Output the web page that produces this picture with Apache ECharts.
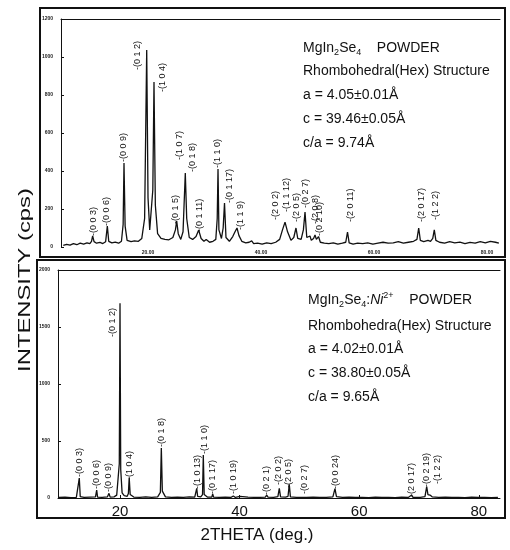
<!DOCTYPE html>
<html><head><meta charset="utf-8">
<script src="https://cdn.jsdelivr.net/npm/echarts@6/dist/echarts.min.js"></script>
<style>html,body{margin:0;padding:0;background:#fff}#c{width:510px;height:550px}</style>
</head><body><div id="c"></div>
<script>
// ---- data ----
const topPattern = [
[5.0,8],[5.6,14],[6.2,10],[6.8,18],[7.4,12],[8.0,20],[8.6,15],[9.2,22],[9.7,18],[10.0,30],[10.2,58],[10.45,28],
[10.9,20],[11.5,24],[12.0,18],[12.5,28],[12.8,110],[13.05,30],[13.6,22],[14.2,26],[14.8,20],[15.3,30],[15.6,120],
[15.75,442],[15.95,110],[16.3,35],[17.0,28],[17.6,32],[18.3,30],[18.9,45],[19.4,150],[19.77,1037],[20.0,260],
[20.3,90],[20.6,100],[20.85,300],[21.06,868],[21.3,220],[21.7,70],[22.3,45],[23.0,40],[23.7,38],[24.4,50],
[24.85,90],[25.08,137],[25.35,70],[25.8,40],[26.2,80],[26.6,389],[26.85,150],[27.3,50],[27.9,40],[28.5,55],
[28.97,89],[29.4,45],[29.9,30],[30.3,40],[30.62,50],[30.9,25],[31.5,30],[32.0,40],[32.25,150],[32.39,410],
[32.55,90],[33.0,45],[33.3,100],[33.54,232],[33.8,50],[34.4,30],[35.0,55],[35.4,80],[35.75,100],[36.1,60],
[36.6,30],[37.3,22],[37.9,25],[38.35,32],[38.7,18],[39.4,20],[40.2,15],[41.0,22],[41.8,18],[42.6,25],[43.3,40],
[43.8,90],[44.25,131],[44.7,80],[45.3,35],[45.8,50],[46.19,100],[46.5,45],[47.1,40],[47.5,90],[47.79,184],
[48.1,50],[48.4,40],[48.67,58],[48.9,35],[49.3,45],[49.56,63],[49.8,40],[50.18,55],[50.5,25],[51.2,20],[52.0,18],
[52.8,22],[53.6,15],[54.4,20],[55.0,25],[55.31,79],[55.6,22],[56.3,15],[57.1,20],[58.0,18],[58.9,22],[59.8,15],
[60.7,20],[61.6,25],[62.5,20],[63.4,22],[64.3,28],[65.2,20],[66.1,25],[67.0,30],[67.6,40],[67.91,100],[68.2,35],
[68.8,28],[69.56,35],[70.0,30],[70.4,45],[70.67,90],[70.95,35],[71.6,25],[72.5,20],[73.4,28],[74.3,22],[75.2,26],
[76.1,18],[77.0,24],[77.9,20],[78.8,28],[79.7,22],[80.6,30],[81.5,25],[82.1,20]
];
const bottomPattern = [
[9.8,5],[10.8,8],[11.8,4],[12.7,6],[13.0,15],[13.19,175],[13.35,12],[14.0,5],[15.0,8],[15.9,10],[16.1,70],[16.25,8],
[17.0,6],[17.9,10],[18.16,41],[18.35,8],[19.0,10],[19.3,15],[19.45,25],[19.7,40],[19.88,300],[20.0,1708],[20.12,250],
[20.35,45],[20.7,20],[21.2,15],[21.4,40],[21.54,180],[21.7,30],[22.3,8],[23.3,6],[24.3,10],[25.3,6],[26.3,10],
[26.75,50],[26.91,438],[27.08,60],[27.6,10],[28.6,5],[29.6,8],[30.6,6],[31.6,10],[32.5,8],[32.7,20],[32.83,85],
[32.98,15],[33.5,10],[33.8,30],[33.93,377],[34.08,30],[34.6,8],[35.35,8],[35.5,35],[35.65,8],[36.6,5],[37.6,8],
[38.6,6],[38.95,18],[39.3,5],[40.07,14],[40.4,5],[41.4,8],[42.4,5],[43.4,6],[44.3,8],[44.53,26],[44.75,8],[45.7,6],
[46.4,12],[46.64,85],[46.85,10],[47.7,8],[48.1,15],[48.31,120],[48.5,10],[49.5,6],[50.7,6],[50.94,18],[51.2,5],
[52.3,8],[53.4,5],[54.5,6],[55.6,10],[55.95,82],[56.2,12],[57.2,5],[58.3,8],[59.4,5],[60.5,6],[61.6,4],[62.7,8],
[63.8,5],[64.9,6],[66.0,4],[67.1,8],[68.2,5],[68.78,26],[69.0,6],[70.2,5],[71.0,12],[71.29,99],[71.5,30],[71.84,26],
[72.2,10],[73.3,5],[74.4,8],[75.5,5],[76.6,6],[77.7,4],[78.8,8],[79.9,5],[81.0,6],[82.1,4],[83.2,6]
];
// peak index labels: [hkl, 2theta, intensity level where the label starts]
const topPeakLabels = [
['(0 0 3)',10.32,58],['(0 0 6)',12.74,110],['(0 0 9)',15.75,447],['(0 1 2)',18.23,932],['(1 0 4)',22.48,816],
['(0 1 5)',24.78,121],['(1 0 7)',25.66,458],['(0 1 8)',27.96,395],['(0 1 11)',29.03,79],['(1 1 0)',32.39,416],
['(0 1 17)',34.51,232],['(1 1 9)',36.41,90],['(2 0 2)',42.65,142],['(1 1 12)',44.60,184],['(2 0 5)',46.37,132],
['(0 2 7)',47.96,205],['(2 0 8)',49.56,121],['(0 2 10)',50.44,58],['(2 0 11)',55.88,132],['(2 0 17)',68.44,132],
['(1 2 2)',70.97,142]
];
const bottomPeakLabels = [
['(0 0 3)',13.23,184],['(0 0 6)',16.15,79],['(0 0 9)',18.08,53],['(0 1 2)',18.83,1412],['(1 0 4)',21.67,158],
['(0 1 8)',26.94,447],['(1 0 13)',32.88,79],['(1 1 0)',34.05,386],['(0 1 17)',35.55,35],['(1 0 19)',38.90,35],
['(0 2 1)',44.58,26],['(2 0 2)',46.59,114],['(2 0 5)',48.26,88],['(0 2 7)',50.94,35],['(0 0 24)',56.12,79],
['(2 0 17)',68.83,9],['(0 2 19)',71.34,96],['(1 2 2)',73.18,123]
];
const xTickValues = [20,40,60,80];
const topYRange = [0,1200,200];
const bottomYRange = [0,2000,500];
const topInfo = ['{n|MgIn}{s|2}{n|Se}{s|4}{n|    POWDER}','Rhombohedral(Hex) Structure','a = 4.05±0.01Å','c = 39.46±0.05Å','c/a = 9.74Å'];
const bottomInfo = ['{n|MgIn}{s|2}{n|Se}{s|4}{n|:}{i|Ni}{p|2+}{n|    POWDER}','Rhombohedra(Hex) Structure','a = 4.02±0.01Å','c = 38.80±0.05Å','c/a = 9.65Å'];

// ---- chart ----
const FF = '"Liberation Sans", Arial, sans-serif';
const INK = '#111';
const chart = echarts.init(document.getElementById('c'), null, {renderer:'canvas'});
const richStyles = {
  n:{fontSize:14, fontFamily:FF, fill:INK, lineHeight:18},
  i:{fontSize:14, fontFamily:FF, fill:INK, lineHeight:18, fontStyle:'italic'},
  s:{fontSize:9, fontFamily:FF, fill:INK, lineHeight:9, verticalAlign:'bottom'},
  p:{fontSize:9, fontFamily:FF, fill:INK, lineHeight:9, verticalAlign:'top'}
};
function infoTexts(lines, x, ys){
  return lines.map((t,k)=>({type:'text', x:x, y:ys[k], silent:true,
    style:{text: t.indexOf('{')===0 ? t : '{n|'+t+'}', rich:richStyles, fill:INK,
      verticalAlign:'middle', textVerticalAlign:'middle', align:'left', textAlign:'left'}}));
}
function labelSeries(list, xi, yi){
  return {type:'scatter', xAxisIndex:xi, yAxisIndex:yi, symbolSize:1, itemStyle:{color:'rgba(0,0,0,0)'}, silent:true,
    data: list.map(d=>[d[1],d[2],d[0]]),
    labelLayout:{hideOverlap:false},
    label:{show:true, position:'inside', rotate:90, align:'left', verticalAlign:'middle',
      formatter:p=>'-'+p.data[2], fontSize:9, fontFamily:FF, color:INK, opacity:1}};
}
const tinyLabel = {fontSize:5, fontWeight:'bold', fontFamily:FF, color:'#222'};
chart.setOption({
  animation:false,
  backgroundColor:'#fff',
  grid:[{left:61, top:19, width:439, height:228},{left:58, top:270, width:442, height:228}],
  xAxis:[
    {gridIndex:0, type:'value', min:4.6, max:82.3, position:'bottom', axisLine:{show:false}, axisTick:{show:false}, splitLine:{show:false},
     axisLabel:Object.assign({customValues:xTickValues, formatter:v=>v.toFixed(2), margin:3}, tinyLabel)},
    {gridIndex:0, type:'value', min:4.6, max:82.3, position:'top', axisLine:{show:true, lineStyle:{color:INK, width:1}}, axisTick:{show:false}, axisLabel:{show:false}, splitLine:{show:false}},
    {gridIndex:1, type:'value', min:9.63, max:83.55, position:'bottom', axisLine:{show:true, lineStyle:{color:INK, width:1}},
     axisTick:{show:true, inside:true, length:3, customValues:xTickValues, lineStyle:{color:INK}}, splitLine:{show:false},
     axisLabel:{customValues:xTickValues, fontSize:15, fontFamily:FF, color:INK, margin:6}},
    {gridIndex:1, type:'value', min:9.63, max:83.55, position:'top', axisLine:{show:true, lineStyle:{color:INK, width:1}}, axisTick:{show:false}, axisLabel:{show:false}, splitLine:{show:false}}
  ],
  yAxis:[
    {gridIndex:0, type:'value', min:topYRange[0], max:topYRange[1], interval:topYRange[2], axisLine:{show:true, lineStyle:{color:INK, width:1}},
     axisTick:{show:true, inside:true, length:3, lineStyle:{color:INK}}, splitLine:{show:false}, axisLabel:Object.assign({margin:8, formatter:v=>String(v)}, tinyLabel)},
    {gridIndex:1, type:'value', min:bottomYRange[0], max:bottomYRange[1], interval:bottomYRange[2], axisLine:{show:true, lineStyle:{color:INK, width:1}},
     axisTick:{show:true, inside:true, length:3, lineStyle:{color:INK}}, splitLine:{show:false}, axisLabel:Object.assign({margin:8, formatter:v=>String(v)}, tinyLabel)}
  ],
  series:[
    {type:'line', xAxisIndex:0, yAxisIndex:0, data:topPattern, showSymbol:false, symbol:'none', lineStyle:{color:INK, width:1.3}, silent:true},
    {type:'line', xAxisIndex:2, yAxisIndex:1, data:bottomPattern, showSymbol:false, symbol:'none', lineStyle:{color:INK, width:1.3}, silent:true},
    labelSeries(topPeakLabels, 0, 0),
    labelSeries(bottomPeakLabels, 2, 1)
  ],
  graphic:[
    {type:'rect', silent:true, shape:{x:40, y:8, width:465, height:249}, style:{fill:'none', stroke:INK, lineWidth:2}},
    {type:'rect', silent:true, shape:{x:37, y:260, width:468, height:258}, style:{fill:'none', stroke:INK, lineWidth:2}},
    {type:'text', silent:true, x:25, y:280, rotation:Math.PI/2, scaleX:1.4,
     style:{text:'INTENSITY (cps)', font:'17px '+FF, fill:INK, align:'center', verticalAlign:'middle', textAlign:'center', textVerticalAlign:'middle'}},
    {type:'text', silent:true, x:257, y:535,
     style:{text:'2THETA (deg.)', font:'17px '+FF, fill:INK, align:'center', verticalAlign:'middle', textAlign:'center', textVerticalAlign:'middle'}}
  ].concat(infoTexts(topInfo, 303, [48,71,95,119,143])).concat(infoTexts(bottomInfo, 308, [300,326,349,373,397]))
});
</script></body></html>
